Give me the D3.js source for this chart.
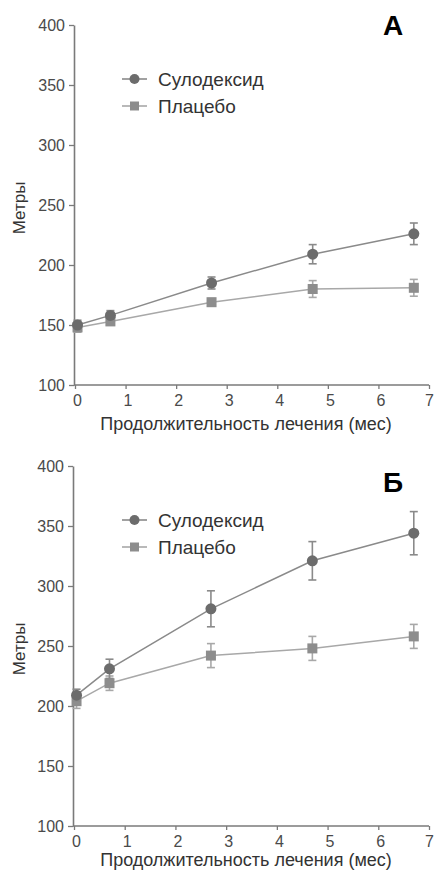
<!DOCTYPE html>
<head>
  <meta charset="utf-8">
  <script src="https://d3js.org/d3.v7.min.js"></script>
  <style>
    body { margin:0; background:#fff; }
    svg { display:block; }
    text { font-family: "Liberation Sans", Arial, sans-serif; }
  </style>
</head>
<body>
  <script>
    // months of treatment
    var months = [0.05, 0.7, 2.7, 4.7, 6.7];
    var yTicks = [100, 150, 200, 250, 300, 350, 400];
    var xTicks = [0, 1, 2, 3, 4, 5, 6, 7];
    var seriesNames = ["Сулодексид", "Плацебо"];

    // panel A
    var sulA = [150, 158, 185, 209, 226];
    var sulAerr = [4, 4, 5, 8, 9];
    var plaA = [148, 153, 169, 180, 181];
    var plaAerr = [4, 3, 3, 7, 7];

    // panel B
    var sulB = [209, 231, 281, 321, 344];
    var sulBerr = [5, 8, 15, 16, 18];
    var plaB = [204, 219, 242, 248, 258];
    var plaBerr = [6, 6, 10, 10, 10];

    var width = 435, height = 872;
    var svg = d3.select("body").append("svg")
        .attr("width", width).attr("height", height);

    var panels = [
      {label: "А", top: 25, left: 74, letterY: 35, titleY: 430,
       sul: sulA, sulErr: sulAerr, pla: plaA, plaErr: plaAerr},
      {label: "Б", top: 466, left: 73, letterY: 492, titleY: 866,
       sul: sulB, sulErr: sulBerr, pla: plaB, plaErr: plaBerr}
    ];

    var axisColor = "#7a7a7a";

    panels.forEach(function(p) {
      var g = svg.append("g");
      var x = d3.scaleLinear().domain([0, 7]).range([p.left + 1, 429]);
      var y = d3.scaleLinear().domain([100, 400]).range([p.top + 360, p.top]);

      // y axis
      var ya = g.append("g").attr("transform", "translate(" + p.left + ",0)")
        .call(d3.axisLeft(y).tickValues(yTicks).tickFormat(d3.format("d"))
          .tickSize(5).tickPadding(4).tickSizeOuter(0));
      // x axis
      var xa = g.append("g").attr("transform", "translate(0," + (p.top + 360) + ")")
        .call(d3.axisBottom(x).tickValues(xTicks).tickFormat(d3.format("d"))
          .tickSize(4).tickPadding(6).tickSizeOuter(0));
      [ya, xa].forEach(function(a) {
        a.select(".domain").attr("stroke", axisColor).attr("stroke-width", 1.6);
        a.selectAll(".tick line").attr("stroke", axisColor).attr("stroke-width", 1.3);
        a.selectAll(".tick text").attr("fill", "#4a4a4a").style("font-size", "16px");
      });
      xa.select(".domain").attr("d", "M" + p.left + ",0H" + x(7));
      xa.selectAll(".tick text").attr("dx", function(d) { return d === 7 ? 0 : 2; });

      // axis titles
      g.append("text")
        .attr("transform", "translate(" + 25 + "," + (p.top + 183) + ") rotate(-90)")
        .attr("text-anchor", "middle")
        .attr("fill", "#333")
        .style("font-size", "17px")
        .text("Метры");
      g.append("text")
        .attr("x", 246).attr("y", p.titleY)
        .attr("text-anchor", "middle")
        .attr("fill", "#333")
        .style("font-size", "18px")
        .text("Продолжительность лечения (мес)");

      // panel letter
      g.append("text")
        .attr("x", 393).attr("y", p.letterY)
        .attr("text-anchor", "middle")
        .attr("font-weight", "bold")
        .style("font-size", "28px")
        .text(p.label);

      var line = d3.line().x(function(d, i) { return x(months[i]); }).y(function(d) { return y(d); });

      var series = [
        {vals: p.pla, err: p.plaErr, color: "#8d8d8d", lineColor: "#a8a8a8", shape: "square"},
        {vals: p.sul, err: p.sulErr, color: "#6c6c6c", lineColor: "#8a8a8a", shape: "circle"}
      ];

      series.forEach(function(s) {
        g.append("path").datum(s.vals)
          .attr("d", line)
          .attr("fill", "none")
          .attr("stroke", s.lineColor)
          .attr("stroke-width", 1.5);

        var eb = g.append("g").selectAll("g").data(s.vals).enter().append("g");
        eb.append("line")
          .attr("x1", function(d, i) { return x(months[i]); })
          .attr("x2", function(d, i) { return x(months[i]); })
          .attr("y1", function(d, i) { return y(d + s.err[i]); })
          .attr("y2", function(d, i) { return y(d - s.err[i]); })
          .attr("stroke", s.lineColor).attr("stroke-width", 1.6);
        [1, -1].forEach(function(sign) {
          eb.append("line")
            .attr("x1", function(d, i) { return x(months[i]) - 4; })
            .attr("x2", function(d, i) { return x(months[i]) + 4; })
            .attr("y1", function(d, i) { return y(d + sign * s.err[i]); })
            .attr("y2", function(d, i) { return y(d + sign * s.err[i]); })
            .attr("stroke", s.lineColor).attr("stroke-width", 1.6);
        });

        if (s.shape === "circle") {
          g.append("g").selectAll("circle").data(s.vals).enter().append("circle")
            .attr("cx", function(d, i) { return x(months[i]); })
            .attr("cy", function(d) { return y(d); })
            .attr("r", 5.5)
            .attr("fill", s.color);
        } else {
          g.append("g").selectAll("rect").data(s.vals).enter().append("rect")
            .attr("x", function(d, i) { return x(months[i]) - 5; })
            .attr("y", function(d) { return y(d) - 5; })
            .attr("width", 10).attr("height", 10)
            .attr("fill", s.color);
        }
      });

      // legend
      var lg = g.append("g").attr("transform", "translate(122," + (p.top + 54) + ")");
      seriesNames.forEach(function(name, i) {
        var s = i === 0 ? series[1] : series[0];
        var row = lg.append("g").attr("transform", "translate(0," + (i * 27) + ")");
        row.append("line").attr("x1", 0).attr("x2", 25).attr("y1", 0).attr("y2", 0)
          .attr("stroke", s.lineColor).attr("stroke-width", 1.6);
        if (s.shape === "circle") {
          row.append("circle").attr("cx", 12.5).attr("cy", 0).attr("r", 5).attr("fill", s.color);
        } else {
          row.append("rect").attr("x", 8).attr("y", -4.5).attr("width", 9).attr("height", 9).attr("fill", s.color);
        }
        row.append("text").attr("x", 36).attr("y", 6.5)
          .attr("fill", "#333")
          .style("font-size", "19px")
          .text(name);
      });
    });
  </script>
</body>
